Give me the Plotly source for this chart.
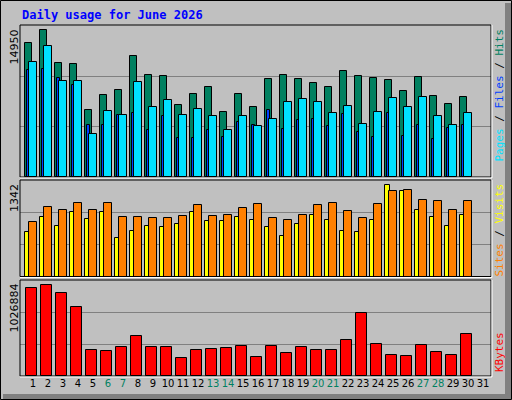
import plotly.graph_objects as go

W, H = 512, 400

days = list(range(1, 31))
hits = [13330, 14620, 11350, 11250, 6690, 8170, 8670, 12040, 10160, 10060,
        7180, 8270, 8970, 6490, 8270, 6980, 9760, 10160, 9760, 9370,
        8970, 10560, 10060, 9860, 9660, 8570, 9960, 8080, 7280, 7980]
files = [11450, 13040, 9560, 9560, 4310, 6590, 6190, 9460, 6980, 7680,
         6190, 6790, 6090, 4700, 6090, 5100, 5790, 7480, 7780, 7480,
         6390, 7080, 5300, 6490, 7880, 6980, 7980, 6090, 5200, 6390]
pages = [10590, 10750, 9860, 9100, 5200, 5200, 6190, 6390, 4700, 6090,
         3910, 3910, 4700, 4010, 5500, 5200, 6690, 4800, 5690, 5790,
         5100, 6290, 4500, 4010, 6390, 4110, 5200, 3810, 4900, 5200]
sites = [629, 825, 713, 895, 797, 895, 545, 643, 713, 699,
         727, 895, 769, 769, 825, 783, 699, 573, 727, 853,
         783, 643, 629, 783, 1286, 1202, 923, 825, 713, 853]
visits = [755, 965, 923, 1021, 923, 1021, 825, 825, 811, 811,
          839, 993, 839, 853, 951, 1007, 811, 783, 853, 993,
          1021, 909, 811, 1007, 1202, 1216, 1076, 1049, 923, 1049]
kbytes = [951000, 983700, 897500, 746700, 283600, 272800, 315900, 434400, 315900, 315900,
          197500, 283600, 294400, 305200, 326700, 208200, 326700, 251300, 315900, 283600,
          283600, 391300, 682100, 348200, 229800, 219000, 337500, 262100, 229800, 455900]
weekend = [6, 7, 13, 14, 20, 21, 27, 28]
max_hits, max_visits, max_kbytes = 14950, 1342, 1026884

def px(x):
    return x / W

def py(y):
    return 1 - y / H

fig = go.Figure()
bar_line = dict(color="black", width=1)

fig.add_trace(go.Bar(x=days, y=hits, width=0.467, offset=0, marker_color="#008060",
                     marker_line=bar_line, xaxis="x", yaxis="y"))
fig.add_trace(go.Bar(x=days, y=pages, width=0.2, offset=0.113, marker_color="#0040ff",
                     marker_line=bar_line, xaxis="x", yaxis="y"))
fig.add_trace(go.Bar(x=days, y=files, width=0.49, offset=0.267, marker_color="#00e0ff",
                     marker_line=bar_line, xaxis="x", yaxis="y"))
fig.add_trace(go.Bar(x=days, y=sites, width=0.293, offset=0, marker_color="#ffff00",
                     marker_line=bar_line, xaxis="x2", yaxis="y2"))
fig.add_trace(go.Bar(x=days, y=visits, width=0.49, offset=0.267, marker_color="#ff8000",
                     marker_line=bar_line, xaxis="x2", yaxis="y2"))
fig.add_trace(go.Bar(x=days, y=kbytes, width=0.693, offset=0.067, marker_color="#ff0000",
                     marker_line=bar_line, xaxis="x3", yaxis="y3"))

xr = [0.647, 32.047]
xdom = [px(20), px(491)]
all_days = list(range(1, 32))
ticktext = [f'<span style="color:#008060">{d}</span>' if d in weekend else str(d) for d in all_days]
common_x = dict(range=xr, domain=xdom, showgrid=False, zeroline=False, fixedrange=True)
fig.update_layout(
    xaxis=dict(**common_x, anchor="y", showticklabels=False),
    xaxis2=dict(**common_x, anchor="y2", showticklabels=False),
    xaxis3=dict(**common_x, anchor="y3", tickvals=[d + 0.513 for d in all_days],
                ticktext=ticktext, ticks="", tickangle=0, automargin=False,
                tickfont=dict(family="DejaVu Sans", size=10, color="black")),
)
def yax(dom, top, mx, anchor):
    return dict(domain=[py(dom[1]), py(dom[0])], range=[0, top], anchor=anchor,
                tickvals=[mx / 3, 2 * mx / 3], showticklabels=False, ticks="",
                gridcolor="#808080", gridwidth=1, zeroline=False, fixedrange=True)
fig.update_layout(
    yaxis=yax([25, 177], max_hits * 152 / 150.7, max_hits, "x"),
    yaxis2=yax([180, 276.5], max_visits * 96.5 / 96, max_visits, "x2"),
    yaxis3=yax([280, 376], max_kbytes * 96 / 95.3, max_kbytes, "x3"),
)

P = dict(xref="paper", yref="paper")
shapes = [
    dict(type="rect", x0=px(505), x1=px(511), y0=py(399), y1=py(3), fillcolor="#808080", line_width=0, **P),
    dict(type="rect", x0=px(3), x1=px(511), y0=py(399), y1=py(394), fillcolor="#808080", line_width=0, **P),
    dict(type="rect", x0=px(0.5), y0=py(399.5), x1=px(511.5), y1=py(0.5), line=dict(color="black", width=1), **P),
]
for top, bot in [(25, 177), (180, 276.5), (280, 376)]:
    shapes.append(dict(type="rect", x0=px(20), x1=px(491), y0=py(bot), y1=py(top),
                       line=dict(color="black", width=1), **P))
    shapes.append(dict(type="line", x0=px(20), x1=px(492), y0=py(bot + 1), y1=py(bot + 1),
                       line=dict(color="white", width=1), **P))
    shapes.append(dict(type="line", x0=px(492), x1=px(492), y0=py(bot + 1), y1=py(top),
                       line=dict(color="white", width=1), **P))

mono = "DejaVu Sans Mono"
ann = [
    dict(x=px(20), y=py(15), text="<b>Daily usage for June 2026</b>",
         xanchor="left", yanchor="middle", font=dict(family=mono, size=12, color="#0000ff")),
    dict(x=px(14), y=py(28), text="14950", textangle=-90, xanchor="center",
         yanchor="top", font=dict(family="DejaVu Sans", size=11, color="black")),
    dict(x=px(14), y=py(182), text="1342", textangle=-90, xanchor="center",
         yanchor="top", font=dict(family="DejaVu Sans", size=11, color="black")),
    dict(x=px(14), y=py(282), text="1026884", textangle=-90, xanchor="center",
         yanchor="top", font=dict(family="DejaVu Sans", size=11, color="black")),
    dict(x=px(499), y=py(27), textangle=-90, xanchor="center", yanchor="top",
         text='<span style="color:#00e0ff">Pages</span> / <span style="color:#0040ff">Files</span> / <span style="color:#008060">Hits</span>',
         font=dict(family=mono, size=11, color="black")),
    dict(x=px(499), y=py(182), textangle=-90, xanchor="center", yanchor="top",
         text='<span style="color:#ff8000">Sites</span> / <span style="color:#ffff00">Visits</span>',
         font=dict(family=mono, size=11, color="black")),
    dict(x=px(499), y=py(374), textangle=-90, xanchor="center", yanchor="bottom",
         text="KBytes", font=dict(family=mono, size=11, color="#ff0000")),
]
for a in ann:
    a.update(showarrow=False, **P)

fig.update_layout(width=W, height=H, margin=dict(l=0, r=0, t=0, b=0),
                  paper_bgcolor="#c0c0c0", plot_bgcolor="#c0c0c0", showlegend=False,
                  barmode="overlay", bargap=0, shapes=shapes, annotations=ann)
fig.write_html("out.html", config={"displayModeBar": False},
               post_script="document.body.style.margin='0';document.body.style.overflow='hidden';")
